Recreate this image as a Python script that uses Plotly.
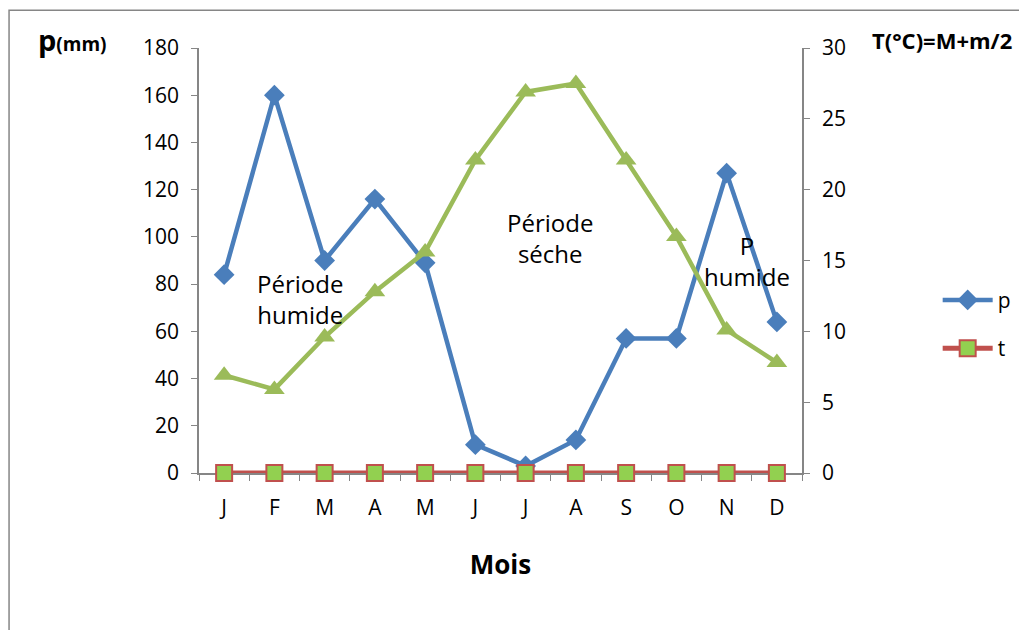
import plotly.graph_objects as go

mois = ["J", "F", "M", "A", "M", "J", "J", "A", "S", "O", "N", "D"]
p_mm = [84, 160, 90, 116, 89, 12, 3, 14, 57, 57, 127, 64]
t_zero = [0, 0, 0, 0, 0, 0, 0, 0, 0, 0, 0, 0]
temp = [6.9, 5.9, 9.6, 12.8, 15.6, 22.1, 26.9, 27.5, 22.1, 16.7, 10.1, 7.8]

x = list(range(len(mois)))
font = "Open Sans, Liberation Sans, sans-serif"
grey = "#868686"

fig = go.Figure()
fig.add_trace(go.Scatter(x=x, y=p_mm, name="p", mode="lines+markers", legendgroup="p",
                         cliponaxis=False,
                         line=dict(color="#4a7ebb", width=4.5),
                         marker=dict(symbol="diamond", size=16, color="#4a7ebb")))
fig.add_trace(go.Scatter(x=x, y=t_zero, name="t", mode="lines+markers", legendgroup="t",
                         cliponaxis=False,
                         line=dict(color="#c0504d", width=5),
                         marker=dict(symbol="square", size=16, color="#92d050",
                                     line=dict(color="#c0504d", width=2))))
fig.add_trace(go.Scatter(x=x, y=temp, name="T", mode="lines+markers", yaxis="y2",
                         showlegend=False, cliponaxis=False,
                         line=dict(color="#9bbb59", width=4.5),
                         marker=dict(symbol="triangle-up", size=18, color="#9bbb59")))

# the page body adds 8px, so margins are shifted by that
fig.update_layout(
    width=1027, height=630,
    margin=dict(l=191, r=233, t=40, b=165),
    paper_bgcolor="white", plot_bgcolor="white",
    font=dict(family=font, size=21, color="black"),
    xaxis=dict(tickmode="array", tickvals=x, ticktext=mois, range=[-0.5, 11.5],
               showline=True, linecolor=grey, linewidth=1.5, ticks="outside",
               tickcolor="rgba(0,0,0,0)", ticklen=6, showgrid=False, zeroline=False,
               ticklabelstandoff=9, layer="below traces",
               minor=dict(ticks="outside", tick0=-0.5, dtick=1, ticklen=6,
                          tickcolor=grey, showgrid=False),
               title=dict(text="<b>Mois</b>", font=dict(size=26), standoff=36)),
    yaxis=dict(range=[0, 180], dtick=20, showline=True, linecolor=grey, linewidth=1.5,
               ticks="outside", tickcolor=grey, ticklen=6, showgrid=False,
               zeroline=False, ticklabelstandoff=8, layer="below traces"),
    yaxis2=dict(range=[0, 30], dtick=5, overlaying="y", side="right", showline=True,
                linecolor=grey, linewidth=1.5, ticks="outside", tickcolor=grey,
                ticklen=6, showgrid=False, zeroline=False, ticklabelstandoff=8,
                layer="below traces"),
    legend=dict(x=1.225, y=0.35, xanchor="left", yanchor="middle", traceorder="grouped",
                font=dict(size=21), tracegroupgap=18, itemwidth=50),
    shapes=[dict(type="rect", xref="paper", yref="paper", x0=-0.315, x1=1.45,
                 y0=-0.45, y1=1.089, line=dict(color=grey, width=1.5))],
    annotations=[
        dict(text="<b><span style='font-size:29px'>p</span>(mm)</b>", xref="paper",
             yref="paper", x=-0.27, y=1.019, xanchor="left", yanchor="middle",
             showarrow=False, font=dict(size=19)),
        dict(text="<b>T(°C)=M+m/2</b>", xref="paper", yref="paper", x=1.113, y=1.019,
             xanchor="left", yanchor="middle", showarrow=False, font=dict(size=22)),
        dict(text="Période<br>humide", x=1.51, y=73.7, showarrow=False, font=dict(size=24)),
        dict(text="Période<br>séche", x=6.49, y=99.5, showarrow=False, font=dict(size=24)),
        dict(text="P<br>humide", x=10.41, y=89.8, showarrow=False, font=dict(size=24)),
    ],
)

fig.write_html("out.html")
